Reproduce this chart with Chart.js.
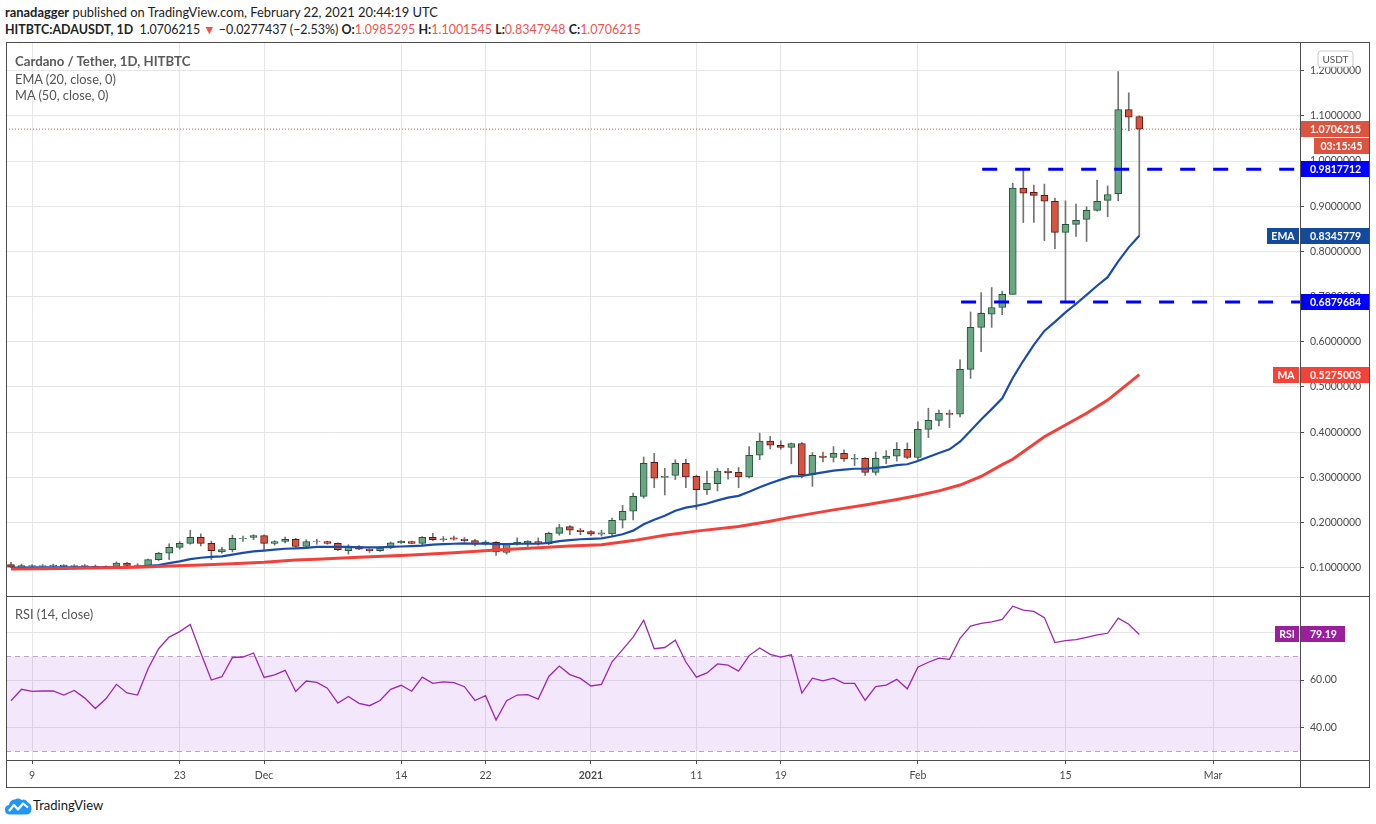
<!DOCTYPE html>
<html>
<head>
<meta charset="utf-8">
<script src="https://cdn.jsdelivr.net/npm/chart.js@4.4.1/dist/chart.umd.min.js"></script>
<style>
  body { margin: 0; width: 1376px; height: 824px; background: #fff; position: relative; overflow: hidden;
         font-family: Lato, "Noto Sans", sans-serif; color: #222; }
  .abs { position: absolute; white-space: nowrap; }
  canvas { position: absolute; z-index: 1; }
  .ln { position: absolute; background: #4d4d4d; z-index: 3; }
  .red { color: #ef5350; }
  .leg { position: absolute; z-index: 2; color: #555; font-size: 12.8px; white-space: nowrap; }
</style>
</head>
<body>
<div class="abs" style="left:5px; top:4px; font-size:12.9px;"><b>ranadagger</b> published on TradingView.com, February 22, 2021 20:44:19 UTC</div>
<div class="abs" style="left:5px; top:22px; font-size:12.45px;"><b>HITBTC:ADAUSDT, 1D</b>&nbsp; 1.0706215 <span class="red">▼</span> −0.0277437 (−2.53%) <b>O:</b><span class="red">1.0985295</span> <b>H:</b><span class="red">1.1001545</span> <b>L:</b><span class="red">0.8347948</span> <b>C:</b><span class="red">1.0706215</span></div>

<canvas id="price" width="1364" height="553" style="left:6px; top:43px;"></canvas>
<canvas id="rsi" width="1364" height="190" style="left:6px; top:597px;"></canvas>

<div class="leg" style="left:15px; top:53px; font-weight:bold; color:#5a5a5a; font-size:13.2px;">Cardano / Tether, 1D, HITBTC</div>
<div class="leg" style="left:15px; top:71px;">EMA (20, close, 0)</div>
<div class="leg" style="left:15px; top:87px;">MA (50, close, 0)</div>
<div class="leg" style="left:15px; top:606px;">RSI (14, close)</div>

<div class="ln" style="left:6px; top:42px; width:1364px; height:1px;"></div>
<div class="ln" style="left:6px; top:787px; width:1364px; height:1px;"></div>
<div class="ln" style="left:6px; top:42px; width:1px; height:746px;"></div>
<div class="ln" style="left:1369px; top:42px; width:1px; height:746px;"></div>
<div class="ln" style="left:1300px; top:42px; width:1px; height:746px;"></div>
<div class="ln" style="left:6px; top:596px; width:1364px; height:1px;"></div>
<div class="ln" style="left:6px; top:760px; width:1364px; height:1px;"></div>

<div class="abs" style="left:5px; top:797px;">
  <svg width="27" height="18" viewBox="0 0 27 18">
    <path d="M5 17.5 Q0 17.5 0 12.5 Q0 8.5 4 8 Q5 2.5 10 2.5 Q13 0.5 16.5 3 Q20.5 1.5 23 5.5 Q27 7.5 26.5 12.5 Q26 17.5 21 17.5 Z" fill="#2196f3"/>
    <polyline points="4,14 9,8 13,12.5 18,6.5 23,10.5" stroke="#fff" stroke-width="2.2" fill="none" stroke-linejoin="round"/>
  </svg>
</div>
<div class="abs" style="left:33px; top:797px; font-size:13px; color:#131722;">TradingView</div>

<script>
// x axis: day index, 0 = Nov 7 2020
const tickDays = [2, 16, 24, 37, 45, 55, 65, 73, 86, 100, 114];
const tickLabels = ['9', '23', 'Dec', '14', '22', '2021', '11', '19', 'Feb', '15', 'Mar'];
const priceTicks = [0.1, 0.2, 0.3, 0.4, 0.5, 0.6, 0.7, 0.8, 0.9, 1.0, 1.1, 1.2];
const rsiTicks = [40, 60, 80];

const opens = [
  0.107, 0.101, 0.105, 0.104, 0.104, 0.106, 0.103, 0.105, 0.103, 0.099,
  0.103, 0.110, 0.106, 0.105, 0.118, 0.132, 0.145, 0.154, 0.167, 0.154,
  0.135, 0.140, 0.164, 0.167, 0.171, 0.154, 0.158, 0.163, 0.147, 0.158,
  0.158, 0.154, 0.138, 0.147, 0.141, 0.138, 0.144, 0.155, 0.158, 0.154,
  0.167, 0.162, 0.166, 0.163, 0.160, 0.152, 0.156, 0.134, 0.152, 0.155,
  0.158, 0.153, 0.176, 0.191, 0.183, 0.180, 0.174, 0.175, 0.205, 0.225,
  0.258, 0.333, 0.300, 0.304, 0.331, 0.302, 0.273, 0.286, 0.314, 0.311,
  0.301, 0.349, 0.380, 0.371, 0.366, 0.375, 0.306, 0.347, 0.344, 0.353,
  0.340, 0.342, 0.311, 0.342, 0.347, 0.362, 0.344, 0.406, 0.426, 0.442,
  0.440, 0.539, 0.632, 0.661, 0.676, 0.705, 0.940, 0.931, 0.924, 0.911,
  0.842, 0.860, 0.871, 0.891, 0.913, 0.928, 1.114, 1.0985295
];
const highs = [
  0.112, 0.108, 0.107, 0.107, 0.108, 0.107, 0.107, 0.107, 0.106, 0.104,
  0.113, 0.112, 0.109, 0.119, 0.134, 0.153, 0.158, 0.183, 0.175, 0.159,
  0.145, 0.172, 0.170, 0.173, 0.173, 0.160, 0.168, 0.165, 0.162, 0.163,
  0.159, 0.155, 0.151, 0.149, 0.142, 0.147, 0.157, 0.160, 0.159, 0.169,
  0.176, 0.169, 0.170, 0.167, 0.163, 0.160, 0.158, 0.153, 0.166, 0.160,
  0.166, 0.179, 0.196, 0.193, 0.187, 0.182, 0.183, 0.210, 0.238, 0.265,
  0.345, 0.353, 0.320, 0.339, 0.340, 0.305, 0.314, 0.320, 0.320, 0.322,
  0.368, 0.398, 0.391, 0.381, 0.376, 0.377, 0.355, 0.356, 0.368, 0.361,
  0.351, 0.344, 0.356, 0.359, 0.377, 0.376, 0.423, 0.453, 0.449, 0.449,
  0.560, 0.666, 0.709, 0.720, 0.712, 0.951, 0.979, 0.947, 0.949, 0.918,
  0.912, 0.905, 0.899, 0.958, 0.945, 1.198, 1.151, 1.1001545
];
const lows = [
  0.100, 0.100, 0.102, 0.102, 0.102, 0.101, 0.101, 0.101, 0.098, 0.098,
  0.102, 0.103, 0.104, 0.104, 0.116, 0.118, 0.141, 0.152, 0.148, 0.118,
  0.132, 0.135, 0.158, 0.162, 0.140, 0.150, 0.155, 0.145, 0.145, 0.152,
  0.152, 0.138, 0.130, 0.140, 0.134, 0.136, 0.142, 0.154, 0.153, 0.150,
  0.160, 0.158, 0.161, 0.157, 0.148, 0.150, 0.127, 0.130, 0.150, 0.147,
  0.150, 0.151, 0.172, 0.173, 0.173, 0.171, 0.170, 0.171, 0.188, 0.206,
  0.254, 0.277, 0.261, 0.295, 0.277, 0.229, 0.262, 0.270, 0.296, 0.277,
  0.299, 0.339, 0.363, 0.362, 0.330, 0.299, 0.280, 0.334, 0.334, 0.335,
  0.326, 0.304, 0.305, 0.330, 0.336, 0.341, 0.338, 0.388, 0.414, 0.410,
  0.434, 0.519, 0.578, 0.632, 0.660, 0.705, 0.864, 0.864, 0.824, 0.806,
  0.688, 0.833, 0.822, 0.889, 0.877, 0.912, 1.067, 0.8347948
];
const closes = [
  0.101, 0.105, 0.104, 0.105, 0.106, 0.103, 0.105, 0.103, 0.099, 0.103,
  0.110, 0.105, 0.105, 0.118, 0.132, 0.145, 0.154, 0.167, 0.154, 0.138,
  0.140, 0.165, 0.165, 0.171, 0.154, 0.158, 0.163, 0.147, 0.158, 0.159,
  0.154, 0.140, 0.147, 0.141, 0.138, 0.144, 0.155, 0.159, 0.154, 0.167,
  0.162, 0.164, 0.163, 0.160, 0.152, 0.157, 0.135, 0.152, 0.157, 0.159,
  0.154, 0.176, 0.189, 0.183, 0.180, 0.174, 0.177, 0.205, 0.225, 0.258,
  0.331, 0.298, 0.302, 0.331, 0.301, 0.273, 0.287, 0.314, 0.310, 0.301,
  0.349, 0.380, 0.371, 0.366, 0.375, 0.306, 0.349, 0.344, 0.353, 0.341,
  0.342, 0.311, 0.342, 0.347, 0.362, 0.344, 0.406, 0.426, 0.442, 0.439,
  0.539, 0.632, 0.663, 0.676, 0.705, 0.940, 0.929, 0.924, 0.911, 0.842,
  0.860, 0.869, 0.891, 0.911, 0.926, 1.114, 1.097, 1.0706215
];
const ema20 = [
  0.100, 0.100, 0.101, 0.101, 0.101, 0.101, 0.101, 0.101, 0.101, 0.101,
  0.101, 0.102, 0.102, 0.104, 0.106, 0.110, 0.114, 0.119, 0.122, 0.124,
  0.125, 0.129, 0.133, 0.136, 0.138, 0.140, 0.142, 0.143, 0.144, 0.146,
  0.146, 0.146, 0.146, 0.145, 0.145, 0.145, 0.146, 0.147, 0.148, 0.149,
  0.151, 0.152, 0.153, 0.154, 0.153, 0.154, 0.152, 0.152, 0.153, 0.153,
  0.153, 0.155, 0.159, 0.161, 0.163, 0.164, 0.165, 0.169, 0.174, 0.182,
  0.196, 0.206, 0.215, 0.226, 0.233, 0.237, 0.242, 0.249, 0.255, 0.259,
  0.268, 0.278, 0.287, 0.295, 0.302, 0.303, 0.307, 0.311, 0.315, 0.317,
  0.319, 0.319, 0.321, 0.323, 0.327, 0.329, 0.336, 0.345, 0.354, 0.362,
  0.379, 0.403, 0.428, 0.451, 0.475, 0.520, 0.558, 0.593, 0.624, 0.644,
  0.665, 0.684, 0.704, 0.724, 0.743, 0.778, 0.809, 0.8345779
];
const ma50Days = [0, 5, 12, 15, 18, 21, 24, 27, 29, 33, 38, 42, 46, 50, 53, 56, 59, 62, 65,
  69, 72, 74, 78, 81, 84, 86, 88, 90, 92, 94, 95, 98, 102, 104, 107];
const ma50 = [0.097, 0.098, 0.101, 0.104, 0.106, 0.109, 0.112, 0.117, 0.119, 0.123, 0.128,
  0.133, 0.139, 0.144, 0.148, 0.151, 0.160, 0.172, 0.181, 0.191, 0.203, 0.212, 0.228,
  0.239, 0.251, 0.260, 0.270, 0.283, 0.302, 0.328, 0.340, 0.390, 0.442, 0.471, 0.5275003];
const rsi14 = [
  51.3, 56.1, 55.2, 55.4, 55.4, 53.7, 55.6, 52.4, 48.0, 52.1,
  58.2, 54.6, 53.7, 64.8, 73.2, 78.1, 80.4, 83.4, 71.4, 60.0,
  61.4, 69.5, 69.7, 71.4, 61.1, 62.2, 64.1, 55.2, 59.6, 59.0,
  56.6, 50.3, 53.1, 50.2, 49.2, 51.4, 56.1, 57.8, 55.3, 61.2,
  58.6, 59.2, 58.9, 57.2, 51.4, 53.4, 43.2, 51.3, 53.7, 53.9,
  52.0, 61.5, 65.9, 62.3, 60.7, 57.5, 58.2, 67.7, 72.8, 78.1,
  85.2, 73.2, 73.7, 76.8, 67.6, 61.2, 63.0, 66.8, 66.3, 63.8,
  70.3, 73.5, 70.8, 69.7, 70.6, 54.5, 60.8, 59.7, 60.8, 58.6,
  58.6, 51.5, 57.2, 57.9, 60.3, 56.3, 65.4, 67.5, 69.2, 68.7,
  77.6, 82.7, 83.9, 84.5, 85.5, 91.1, 89.4, 88.9, 86.3, 75.8,
  76.6, 77.0, 78.0, 79.0, 79.7, 86.1, 83.5, 79.19
];
const levelValues = [0.9817712, 0.6879684];
const levelFromDay = [92.1, 90.1];
const lastPrice = 1.0706215;
const countdown = '03:15:45';

const X_MIN = -0.474, X_MAX = 122.24;
const FONT = 'Lato, "Noto Sans", sans-serif';
const UP = '#6ba583', UP_EDGE = '#225437', DN = '#d75442', DN_EDGE = '#5b1a13';

const up = closes.map((c, i) => c >= opens[i]);

function xAxis(showLabels) {
  return {
    type: 'linear', min: X_MIN, max: X_MAX, offset: false,
    afterBuildTicks: s => { s.ticks = tickDays.map(v => ({ value: v })); },
    grid: { color: '#e6e6e6', offset: false, drawTicks: showLabels, tickLength: 4, tickColor: '#4d4d4d' },
    border: { display: false },
    ticks: {
      display: showLabels, autoSkip: false, maxRotation: 0, padding: 5, color: '#4a4a4a',
      font: ctx => ({ family: FONT, size: 10.5, weight: ctx.tick && ctx.tick.value === 55 ? 'bold' : 'normal' }),
      callback: (v, i) => tickLabels[i]
    },
    afterFit: s => { s.height = showLabels ? 27 : 0; s.paddingLeft = 0; s.paddingRight = 0; }
  };
}

function yAxis(min, max, ticks, digits) {
  return {
    position: 'right', min: min, max: max,
    afterBuildTicks: s => { s.ticks = ticks.map(v => ({ value: v })); },
    grid: { color: '#e6e6e6', tickLength: 4, tickColor: '#4d4d4d' },
    border: { display: false },
    ticks: { color: '#4a4a4a', padding: 6, font: { family: FONT, size: 10.5 }, callback: v => v.toFixed(digits) },
    afterFit: s => { s.width = 70; s.paddingTop = 0; s.paddingBottom = 0; }
  };
}

function box(ctx, x, yc, w, bg, text, align) {
  ctx.fillStyle = bg;
  ctx.fillRect(x, Math.round(yc) - 8, w, 16);
  ctx.fillStyle = '#fff';
  ctx.font = 'bold 10.5px ' + FONT;
  ctx.textBaseline = 'middle';
  ctx.textAlign = align || 'left';
  ctx.fillText(text, align === 'center' ? x + w / 2 : x + 10, Math.round(yc) + 0.5);
}

function tag(ctx, right, yc, bg, text) {
  ctx.font = 'bold 10.5px ' + FONT;
  const w = Math.ceil(ctx.measureText(text).width) + 8;
  ctx.fillStyle = bg;
  ctx.fillRect(right - w, Math.round(yc) - 8, w, 16);
  ctx.fillStyle = '#fff';
  ctx.textAlign = 'center';
  ctx.textBaseline = 'middle';
  ctx.fillText(text, right - w / 2, Math.round(yc) + 0.5);
}

const priceLabels = {
  id: 'priceLabels',
  afterDraw(chart) {
    const { ctx } = chart;
    const y = chart.scales.y;
    const L = y.left, W = 70;
    ctx.save();
    // currency badge
    ctx.strokeStyle = '#c8cad0';
    ctx.fillStyle = '#fff';
    ctx.beginPath();
    ctx.roundRect(L + 18, 8, 35, 16, 3);
    ctx.fill();
    ctx.stroke();
    ctx.fillStyle = '#555';
    ctx.font = '10px ' + FONT;
    ctx.textAlign = 'center';
    ctx.textBaseline = 'middle';
    ctx.fillText('USDT', L + 35.5, 16.5);

    const pLast = y.getPixelForValue(lastPrice);
    box(ctx, L, pLast, W, '#dc5440', lastPrice.toFixed(7));
    box(ctx, L + 14, pLast + 17, W - 15, '#dc5440', countdown, 'center');
    levelValues.forEach(v => box(ctx, L, y.getPixelForValue(v), W, '#0000ff', v.toFixed(7)));
    const emaLast = ema20[ema20.length - 1];
    const maLast = ma50[ma50.length - 1];
    box(ctx, L, y.getPixelForValue(emaLast), W, '#134a9e', emaLast.toFixed(7));
    tag(ctx, L - 1, y.getPixelForValue(emaLast), '#134a9e', 'EMA');
    box(ctx, L, y.getPixelForValue(maLast), W, '#f44336', maLast.toFixed(7));
    tag(ctx, L - 1, y.getPixelForValue(maLast), '#f44336', 'MA');
    ctx.restore();
  }
};

new Chart(document.getElementById('price'), {
  type: 'bar',
  data: {
    datasets: [
      {
        type: 'line', label: 'levels0', order: 0,
        data: [{ x: levelFromDay[0], y: levelValues[0] }, { x: X_MAX, y: levelValues[0] }],
        borderColor: '#0000ff', borderWidth: 3, borderDash: [15, 18], pointRadius: 0
      },
      {
        type: 'line', label: 'levels1', order: 0,
        data: [{ x: levelFromDay[1], y: levelValues[1] }, { x: X_MAX, y: levelValues[1] }],
        borderColor: '#0000ff', borderWidth: 3, borderDash: [15, 18], pointRadius: 0
      },
      {
        type: 'line', label: 'MA', order: 1,
        data: ma50Days.map((d, i) => ({ x: d, y: ma50[i] })),
        borderColor: '#f2413a', borderWidth: 3, pointRadius: 0, tension: 0
      },
      {
        type: 'line', label: 'EMA', order: 2,
        data: ema20.map((v, i) => ({ x: i, y: v })),
        borderColor: '#1a4caa', borderWidth: 2.2, pointRadius: 0, tension: 0
      },
      {
        label: 'body', order: 3, grouped: false,
        data: opens.map((o, i) => ({ x: i, y: [o, closes[i]] })),
        backgroundColor: up.map(u => u ? UP : DN),
        borderColor: up.map(u => u ? UP_EDGE : DN_EDGE),
        borderWidth: 1, borderSkipped: false, barThickness: 7
      },
      {
        label: 'wick', order: 4, grouped: false,
        data: lows.map((l, i) => ({ x: i, y: [l, highs[i]] })),
        backgroundColor: '#737375', borderWidth: 0, barThickness: 1
      },
      {
        type: 'line', label: 'last', order: 5,
        data: [{ x: X_MIN, y: lastPrice }, { x: X_MAX, y: lastPrice }],
        borderColor: '#d75442', borderWidth: 1, borderDash: [1, 2], pointRadius: 0
      }
    ]
  },
  options: {
    responsive: false, animation: false, devicePixelRatio: 1,
    layout: { padding: 0 },
    plugins: { legend: { display: false }, tooltip: { enabled: false } },
    scales: { x: xAxis(false), y: yAxis(0.0374, 1.2613, priceTicks, 7) }
  },
  plugins: [priceLabels]
});

const rsiDecor = {
  id: 'rsiDecor',
  beforeDatasetsDraw(chart) {
    const { ctx, chartArea: a } = chart;
    const y = chart.scales.y;
    const t = y.getPixelForValue(70), b = y.getPixelForValue(30);
    ctx.save();
    ctx.fillStyle = 'rgba(150, 40, 230, 0.11)';
    ctx.fillRect(a.left, t, a.right - a.left, b - t);
    ctx.strokeStyle = '#b5a6bc';
    ctx.lineWidth = 1;
    ctx.setLineDash([5, 4]);
    [t, b].forEach(p => {
      ctx.beginPath();
      ctx.moveTo(a.left, Math.round(p) + 0.5);
      ctx.lineTo(a.right, Math.round(p) + 0.5);
      ctx.stroke();
    });
    ctx.restore();
  },
  afterDraw(chart) {
    const { ctx } = chart;
    const y = chart.scales.y;
    const v = rsi14[rsi14.length - 1];
    const p = y.getPixelForValue(v);
    ctx.save();
    ctx.font = 'bold 10.5px ' + FONT;
    const w = Math.ceil(ctx.measureText(v.toFixed(2)).width) + 18;
    box(ctx, y.left, p, w, '#9b1f9c', v.toFixed(2));
    tag(ctx, y.left - 1, p, '#9b1f9c', 'RSI');
    ctx.restore();
  }
};

new Chart(document.getElementById('rsi'), {
  type: 'line',
  data: {
    datasets: [{
      label: 'RSI',
      data: rsi14.map((v, i) => ({ x: i, y: v })),
      borderColor: '#9c27b0', borderWidth: 1.3, pointRadius: 0, tension: 0
    }]
  },
  options: {
    responsive: false, animation: false, devicePixelRatio: 1,
    layout: { padding: 0 },
    plugins: { legend: { display: false }, tooltip: { enabled: false } },
    scales: { x: xAxis(true), y: yAxis(26.34, 94.97, rsiTicks, 2) }
  },
  plugins: [rsiDecor]
});
</script>
</body>
</html>
